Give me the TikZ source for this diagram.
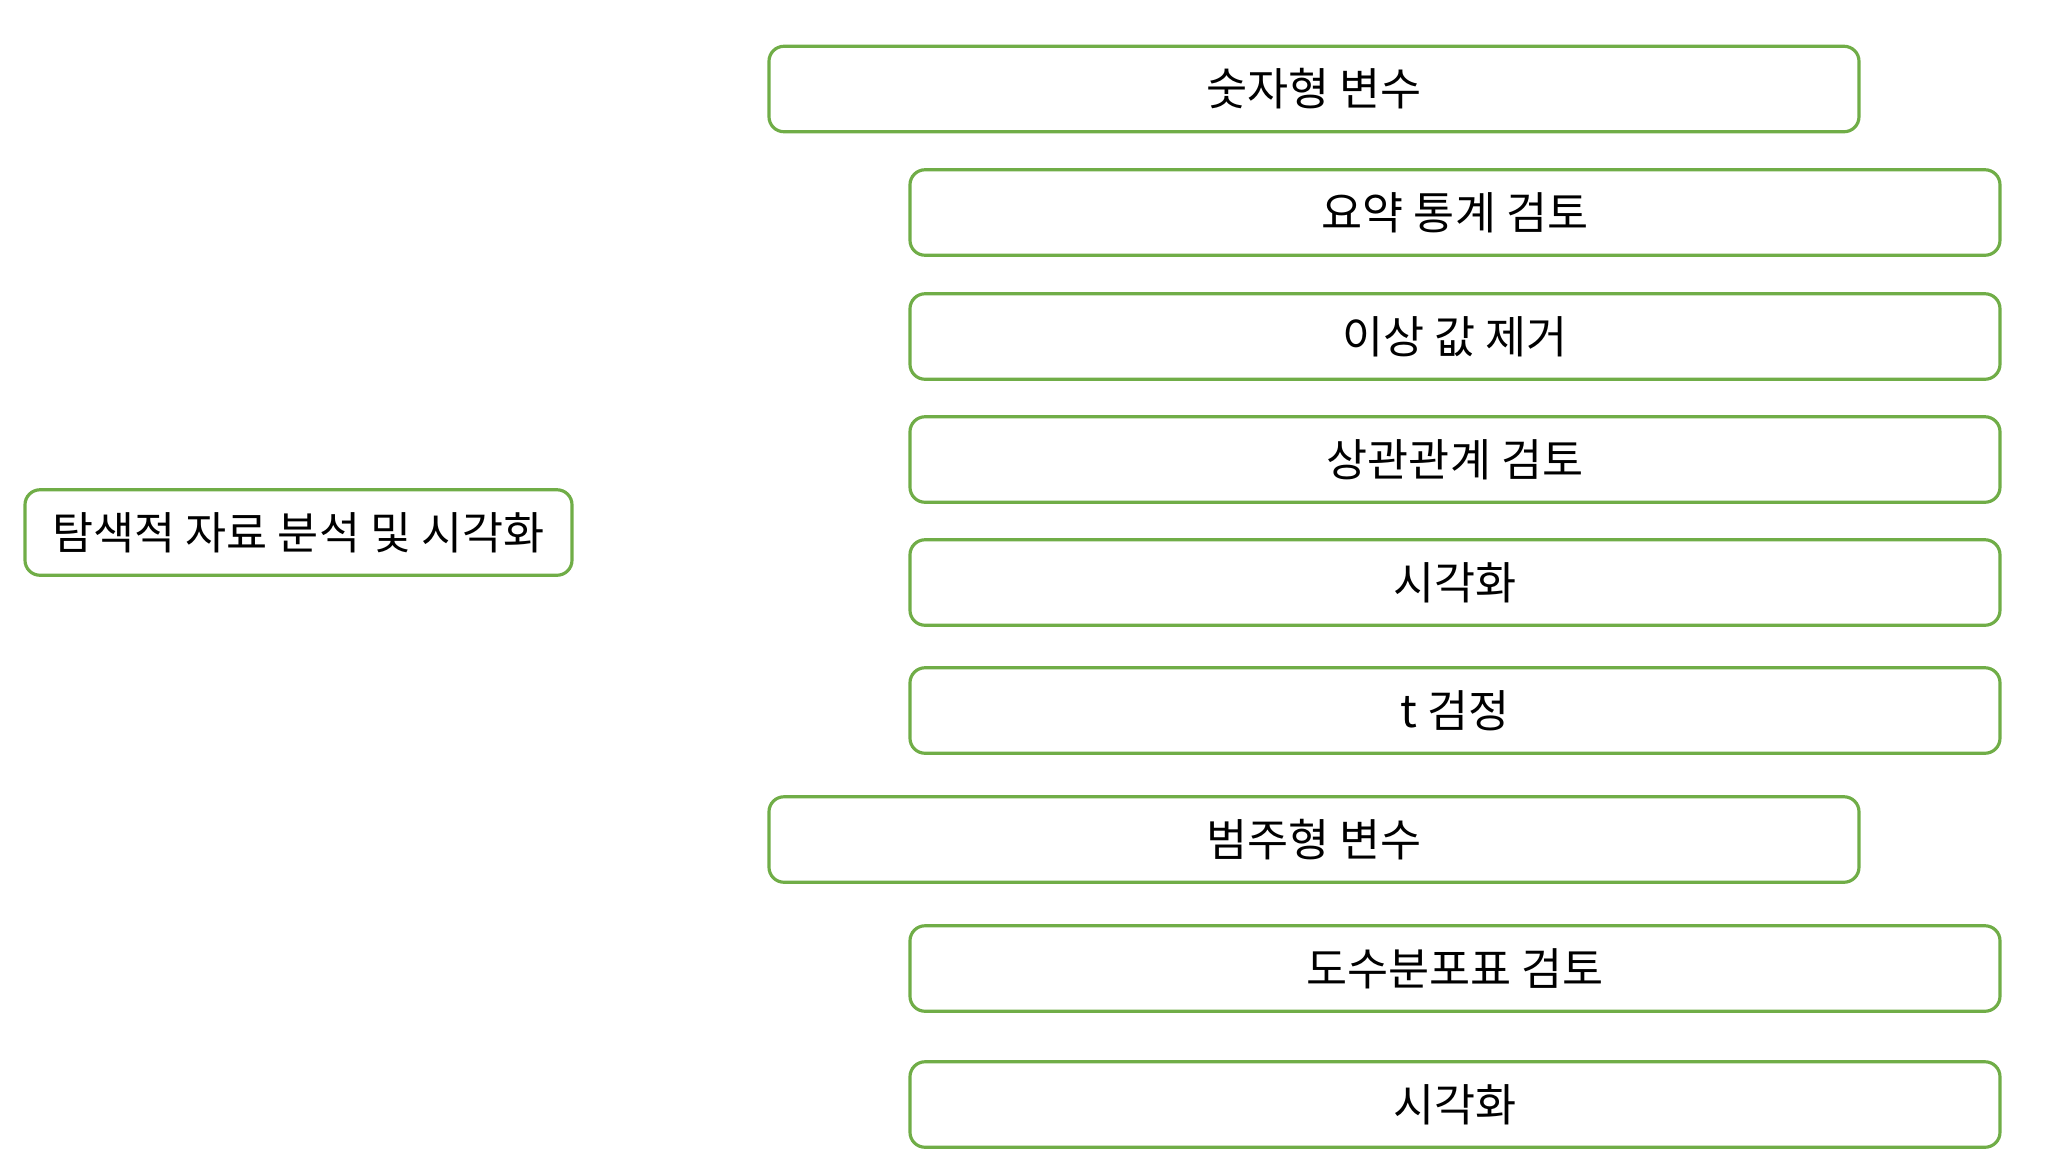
\documentclass[tikz,border=0pt]{standalone}
\usepackage{fontspec}
\setmainfont{Noto Sans CJK KR}
\definecolor{boxgreen}{HTML}{70AD47}
\tikzset{
  topicbox/.style={draw=boxgreen, line width=0.9pt, rounded corners=0.15cm, fill=white,
    minimum height=0.855cm, inner sep=0pt, font=\fontsize{12.7}{14}\selectfont},
  groupbox/.style={topicbox, minimum width=10.9cm},
  leafbox/.style={topicbox, minimum width=10.9cm}
}
\begin{document}
\begin{tikzpicture}
	\useasboundingbox (0,0) rectangle (20.48,-11.71);

	% Hovedemne
	\node[topicbox, minimum width=5.47cm] (eda) at (2.985,-5.325) {탐색적 자료 분석 및 시각화};

	%숫자형 variabler
	\node[groupbox] (numvar) at (13.14,-0.89) {숫자형 변수};
	\node[leafbox] (summary) at (14.55,-2.125) {요약 통계 검토};
	\node[leafbox] (outlier) at (14.55,-3.365) {이상 값 제거};
	\node[leafbox] (corr) at (14.55,-4.595) {상관관계 검토};
	\node[leafbox] (numvis) at (14.55,-5.825) {시각화};
	\node[leafbox] (ttest) at (14.55,-7.105) {t 검정};

	%범주형 variabler
	\node[groupbox] (catvar) at (13.14,-8.395) {범주형 변수};
	\node[leafbox] (freq) at (14.55,-9.685) {도수분포표 검토};
	\node[leafbox] (catvis) at (14.55,-11.045) {시각화};
\end{tikzpicture}
\end{document}
